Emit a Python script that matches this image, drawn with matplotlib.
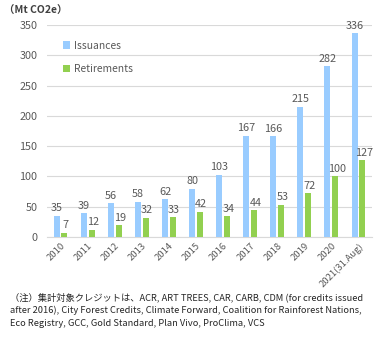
import matplotlib
matplotlib.use("Agg")
import matplotlib.pyplot as plt
import numpy as np

plt.rcParams['font.family'] = ['Noto Sans CJK JP', 'DejaVu Sans']

years = ["2010", "2011", "2012", "2013", "2014", "2015", "2016",
         "2017", "2018", "2019", "2020", "2021(31.Aug)"]
issuances = [35, 39, 56, 58, 62, 80, 103, 167, 166, 215, 282, 336]
retirements = [7, 12, 19, 32, 33, 42, 34, 44, 53, 72, 100, 127]

blue = "#99CCFF"
green = "#92D050"
text_col = "#595959"

fig = plt.figure(figsize=(3.86, 3.37), dpi=100)
ax = fig.add_axes([47/386, 1 - 237/337, 325/386, 212/337])

x = np.arange(len(years))
w = 0.22
off = 0.145
b1 = ax.bar(x - off, issuances, w, color=blue, label="Issuances", zorder=3)
b2 = ax.bar(x + off, retirements, w, color=green, label="Retirements", zorder=3)

for rect, v in zip(b1, issuances):
    ax.text(rect.get_x() + rect.get_width()/2, v + 4, str(v), ha="center",
            va="bottom", fontsize=7.8, color=text_col)
for rect, v in zip(b2, retirements):
    ax.text(rect.get_x() + rect.get_width()/2 + 0.05, v + 4, str(v), ha="center",
            va="bottom", fontsize=7.8, color=text_col)

ax.set_ylim(0, 350)
ax.set_xlim(-0.5, len(years) - 0.5)
ax.set_yticks(range(0, 351, 50))
ax.yaxis.grid(True, color="#D9D9D9", linewidth=0.8, zorder=0)
ax.set_xticks(x)
ax.set_xticklabels(years, rotation=45, ha="right", rotation_mode="anchor",
                   fontsize=6.8, color=text_col)
ax.tick_params(axis="y", labelsize=7.8, colors=text_col, length=0, pad=7)
ax.tick_params(axis="x", length=0, pad=3)
for s in ["top", "right", "left"]:
    ax.spines[s].set_visible(False)
ax.spines["bottom"].set_color("#D9D9D9")

leg = ax.legend(loc="upper left", bbox_to_anchor=(0.02, 0.97), frameon=False,
                fontsize=7.4, handlelength=0.7, handleheight=0.7,
                handletextpad=0.4, labelspacing=1.3, labelcolor=text_col)

fig.text(4/386, 1 - 11/337, "（Mt CO2e）", fontsize=7.5, fontweight="bold",
         color="#404040", va="center", ha="left")

note = ("（注）集計対象クレジットは、ACR, ART TREES, CAR, CARB, CDM (for credits issued\n"
        "after 2016), City Forest Credits, Climate Forward, Coalition for Rainforest Nations,\n"
        "Eco Registry, GCC, Gold Standard, Plan Vivo, ProClima, VCS")
fig.text(10/386, 1 - 292/337, note, fontsize=6.7, color="#262626", va="top",
         ha="left", linespacing=1.55)

fig.savefig("out.png", dpi=100)
